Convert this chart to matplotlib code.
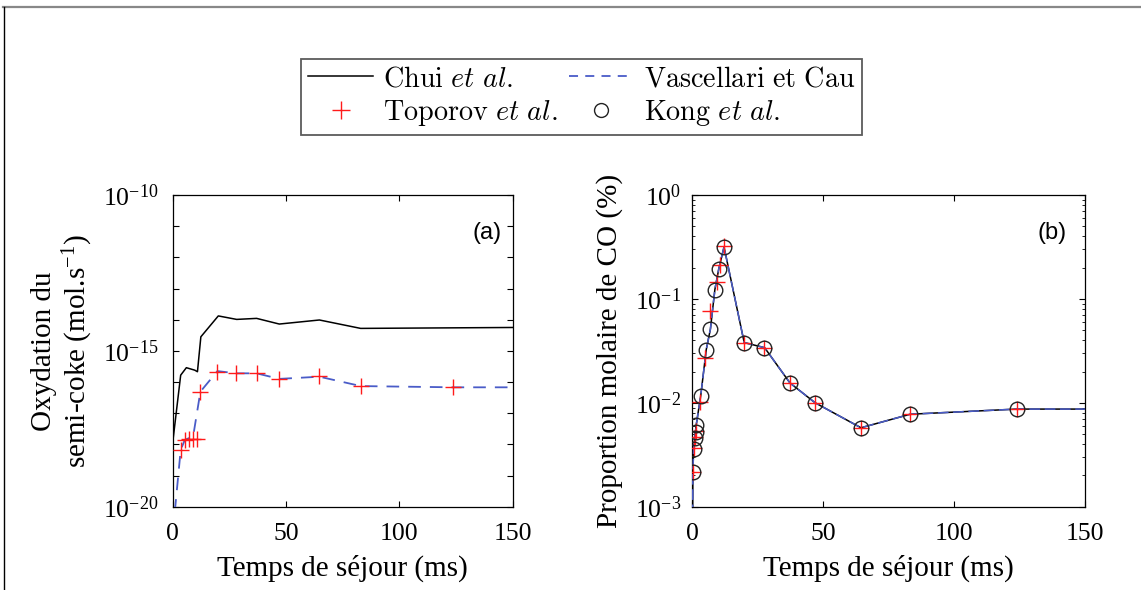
import numpy as np
import matplotlib
matplotlib.use("Agg")
import matplotlib.pyplot as plt
from matplotlib.lines import Line2D
from matplotlib.ticker import FixedLocator, NullFormatter, LogFormatterSciNotation, LogLocator
from matplotlib.font_manager import FontProperties

plt.rcParams['font.family'] = ['Liberation Serif', 'DejaVu Serif']
plt.rcParams['mathtext.fontset'] = 'custom'
plt.rcParams['mathtext.rm'] = 'Liberation Serif'
plt.rcParams['mathtext.it'] = 'Liberation Serif:italic'
plt.rcParams['mathtext.bf'] = 'Liberation Serif:bold'

# ---------------- data : panel (a) semi-coke oxidation (mol/s) ----------------
a_chui_t = [0, 0.05, 3.5, 6.0, 9.7, 10.9, 12.4, 20.1, 28.2, 37, 47, 64.7, 82.9, 150]
a_chui_v = [1e-22, 1.26e-18, 1.66e-16, 2.88e-16, 2.4e-16, 2.14e-16, 2.82e-15,
            1.32e-14, 1.02e-14, 1.10e-14, 7.24e-15, 9.77e-15, 5.25e-15, 5.62e-15]

a_vasc_t = [0, 3.5, 5.3, 7.1, 9.0, 12.2, 19.7, 28, 37, 47, 64.7, 83, 124, 150]
a_vasc_v = [1.4e-21, 6.6e-19, 1.38e-18, 1.58e-18, 1.8e-18, 4.9e-17, 2.24e-16,
            1.9e-16, 1.9e-16, 1.26e-16, 1.48e-16, 7.4e-17, 6.76e-17, 6.76e-17]

a_topo_t = [3.5, 5.3, 7.1, 9.0, 10.9, 12.2, 19.7, 27.9, 37, 47, 64.7, 83, 123.8]
a_topo_v = [6.6e-19, 1.38e-18, 1.45e-18, 1.45e-18, 1.45e-18, 4.9e-17, 2.14e-16,
            1.9e-16, 1.9e-16, 1.23e-16, 1.55e-16, 7.4e-17, 6.76e-17]

# ---------------- data : panel (b) CO molar fraction (%) ----------------
b_line_t = [0, 0.2, 0.5, 0.9, 1.2, 1.5, 3.2, 5.3, 6.9, 8.6, 10.1, 12.1,
            19.8, 27.6, 37.3, 46.9, 64.4, 83.2, 123.9, 150]
b_line_v = [3e-4, 0.00214, 0.00363, 0.00457, 0.00525, 0.00617, 0.0117, 0.0324,
            0.0513, 0.123, 0.195, 0.316, 0.038, 0.0339, 0.0155, 0.0100,
            0.00575, 0.00776, 0.0087, 0.0087]

b_kong_t = [0.2, 0.5, 0.9, 1.2, 1.5, 3.2, 5.35, 6.9, 8.55, 10.1, 12.1,
            19.75, 27.5, 37.3, 46.9, 64.4, 83.2, 123.9]
b_kong_v = [0.00214, 0.00363, 0.00457, 0.00525, 0.00617, 0.0117, 0.0324, 0.0513,
            0.123, 0.195, 0.316, 0.038, 0.0339, 0.0155, 0.0100, 0.00575,
            0.00776, 0.0087]

b_topo_t = [0.2, 0.5, 0.9, 1.2, 2.95, 5.0, 6.6, 9.5, 10.5, 12.1,
            19.75, 27.5, 37.3, 46.9, 64.4, 83.2, 123.9]
b_topo_v = [0.00214, 0.0037, 0.0047, 0.0053, 0.0102, 0.0269, 0.0759, 0.145,
            0.214, 0.324, 0.038, 0.0339, 0.0155, 0.0100, 0.00575, 0.00776, 0.0087]

x_ticks = [0, 50, 100, 150]
legend_labels = [r"$\mathrm{Chui}\ \mathit{et\ al.}$",
                 r"$\mathrm{Toporov}\ \mathit{et\ al.}$",
                 r"$\mathrm{Vascellari\ et\ Cau}$",
                 r"$\mathrm{Kong}\ \mathit{et\ al.}$"]

BLUE = '#4a5cc8'
RED = '#ff1a1a'

fig = plt.figure(figsize=(11.41, 5.90), dpi=100)
axA = fig.add_axes([0.1514, 0.1412, 0.2980, 0.5283])
axB = fig.add_axes([0.6068, 0.1412, 0.3442, 0.5283])

# panel (a)
axA.plot(a_chui_t, a_chui_v, color='black', lw=1.1, zorder=2)
axA.plot(a_vasc_t, a_vasc_v, color=BLUE, lw=1.3, dashes=(7, 5), zorder=3)
axA.plot(a_topo_t, a_topo_v, ls='none', marker='+', ms=12, mew=1.0, color=RED, zorder=4)

# panel (b)
axB.plot(b_line_t, b_line_v, color='black', lw=1.1, zorder=2)
axB.plot(b_line_t, b_line_v, color=BLUE, lw=1.1, dashes=(7, 3), zorder=3)
axB.plot(b_topo_t, b_topo_v, ls='none', marker='+', ms=11, mew=1.0, color=RED, zorder=4)
axB.plot(b_kong_t, b_kong_v, ls='none', marker='o', ms=10.5, mew=1.0, mfc='none', mec='#222222', zorder=5)

for ax in (axA, axB):
    ax.set_xlim(0, 150)
    ax.set_yscale('log')
    ax.set_xticks(x_ticks)
    ax.tick_params(which='both', direction='in', top=True, right=True, labelsize=18.5)
    ax.tick_params(which='major', length=4, width=0.8)
    ax.tick_params(which='minor', length=2.5, width=0.6)
    ax.tick_params(axis='x', pad=12)
    for s in ax.spines.values():
        s.set_linewidth(0.9)
    ax.set_xlabel('Temps de séjour (ms)', fontsize=21, labelpad=7)

axA.set_ylim(1e-20, 1e-10)
axA.yaxis.set_major_locator(FixedLocator([1e-20, 1e-15, 1e-10]))
axA.yaxis.set_major_formatter(LogFormatterSciNotation())
axA.yaxis.set_minor_locator(FixedLocator([10.0 ** k for k in range(-19, -10)]))
axA.yaxis.set_minor_formatter(NullFormatter())
axA.tick_params(axis='y', which='minor', length=4, width=0.8)
axA.tick_params(axis='y', pad=10)

axB.set_ylim(1e-3, 1)
axB.yaxis.set_major_locator(LogLocator(base=10, numticks=10))
axB.yaxis.set_minor_locator(LogLocator(base=10, subs=np.arange(2, 10), numticks=20))
axB.yaxis.set_minor_formatter(NullFormatter())
axB.tick_params(axis='y', pad=8)

axA.set_ylabel('Oxydation du\nsemi-coke (mol.s$^{-1}$)', fontsize=21, linespacing=1.15)
axA.yaxis.set_label_coords(-0.228, 0.5)
axB.set_ylabel('Proportion molaire de CO (%)', fontsize=21)
axB.yaxis.set_label_coords(-0.176, 0.5)

axA.text(0.968, 0.878, '(a)', transform=axA.transAxes, ha='right', va='center',
         fontsize=17, family='Liberation Sans')
axB.text(0.954, 0.878, '(b)', transform=axB.transAxes, ha='right', va='center',
         fontsize=17, family='Liberation Sans')

# legend
handles = [Line2D([], [], color='black', lw=1.1),
           Line2D([], [], ls='none', marker='+', ms=13, mew=1.0, color=RED),
           Line2D([], [], color=BLUE, lw=1.3, dashes=(5, 4)),
           Line2D([], [], ls='none', marker='o', ms=10, mew=1.0, mfc='none', mec='#222222')]
leg = fig.legend(handles, legend_labels, ncol=2, loc='center',
                 bbox_to_anchor=(0.5097, 0.8356), frameon=True, fancybox=False,
                 prop=FontProperties(family='Liberation Serif', size=20.3, math_fontfamily='cm'),
                 handlelength=2.3, handletextpad=0.35, columnspacing=0.4,
                 labelspacing=0.2, borderpad=0.25, numpoints=1, borderaxespad=0)
leg.get_frame().set_edgecolor('#333333')
leg.get_frame().set_linewidth(1.3)

# outer frame (top & left)
fig.add_artist(Line2D([0.0026, 1.0], [1 - 6.5 / 590, 1 - 6.5 / 590],
                      transform=fig.transFigure, color='#888888', lw=1.6))
fig.add_artist(Line2D([0.0035, 0.0035], [0, 1 - 6.5 / 590],
                      transform=fig.transFigure, color='black', lw=1.0))

fig.savefig('out.png', dpi=100)
